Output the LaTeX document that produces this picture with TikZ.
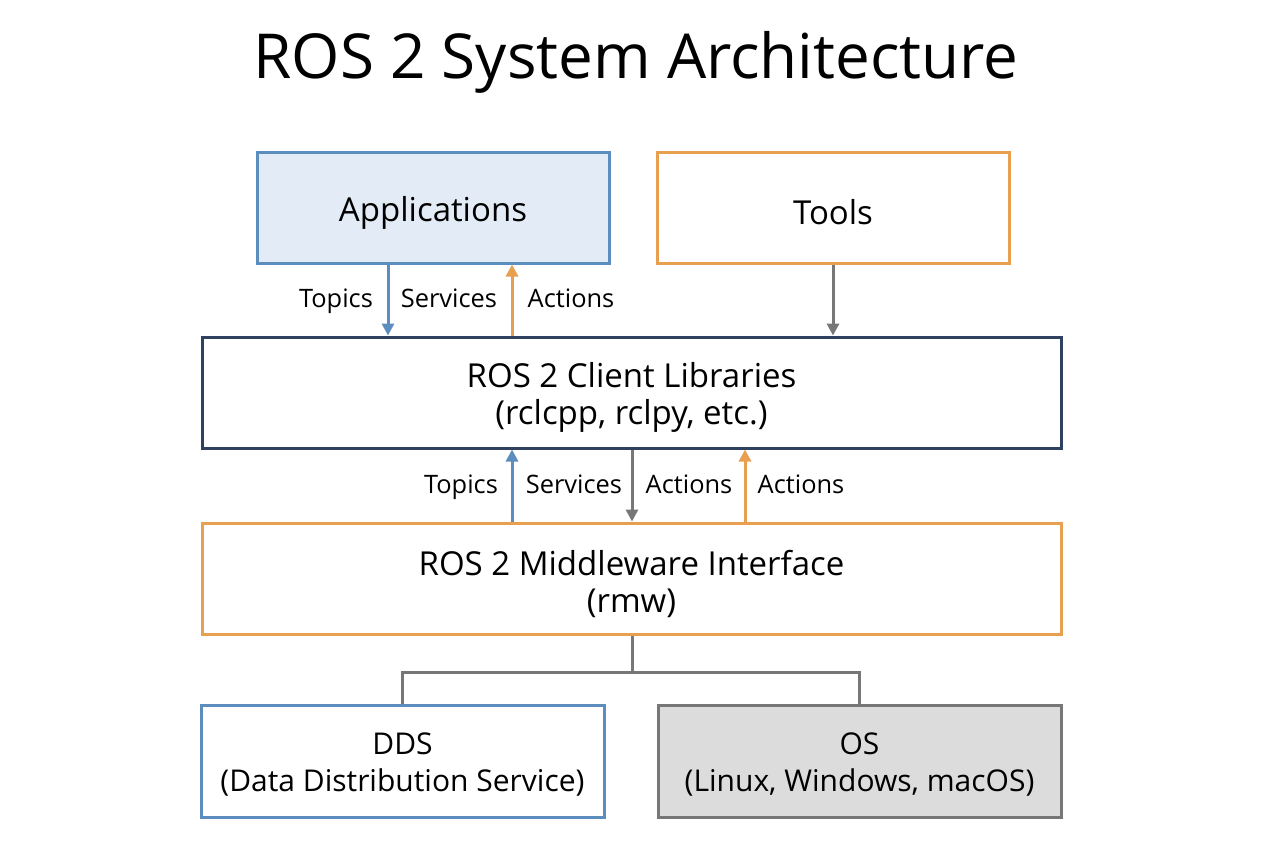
\documentclass[tikz,border=0pt]{standalone}
\usepackage{fontspec}
\setmainfont{Open Sans}
\usetikzlibrary{arrows.meta}
\definecolor{cblue}{HTML}{5B8DBE}
\definecolor{lblue}{HTML}{E3ECF6}
\definecolor{corange}{HTML}{E8A050}
\definecolor{cnavy}{HTML}{2E4260}
\definecolor{cgray}{HTML}{777777}
\definecolor{lgray}{HTML}{DCDCDC}
\begin{document}
\begin{tikzpicture}[x=0.5pt,y=-0.5pt,
  box/.style={draw,line width=1.5pt,align=center,inner sep=0pt},
  txt/.style={label={[align=center,font=\fontsize{16.5}{18.5}\selectfont,yshift=-2.5pt]center:#1}},
  stxt/.style={label={[align=center,font=\fontsize{15}{18.5}\selectfont,yshift=-1.5pt]center:#1}},
  lab/.style={font=\fontsize{12.7}{14}\selectfont,text height=9pt,text depth=2.5pt},
  arr/.style={line width=1.5pt,-{Triangle[length=6pt,width=6pt]}}]
\useasboundingbox[fill=white] (0,0) rectangle (1264,848);
\node[font=\fontsize{31}{34}\selectfont] (title) at (636,62) {ROS 2 System Architecture};
\node[box,draw=cblue,fill=lblue,minimum width=176pt,minimum height=55.5pt,txt={Applications}] (app) at (433,207.5) {};
\node[box,draw=corange,minimum width=176pt,minimum height=55.5pt,txt={Tools}] (tools) at (833,207.5) {};
\node[box,draw=cnavy,minimum width=429.5pt,minimum height=55.5pt,txt={ROS 2 Client Libraries\\(rclcpp, rclpy, etc.)}] (rcl) at (631.5,392.5) {};
\node[box,draw=corange,minimum width=429.5pt,minimum height=55.5pt,txt={ROS 2 Middleware Interface\\(rmw)}] (rmw) at (631.5,578.5) {};
\node[box,draw=cblue,minimum width=201.5pt,minimum height=56pt,stxt={DDS\\(Data Distribution Service)}] (dds) at (402.5,761) {};
\node[box,draw=cgray,fill=lgray,minimum width=201.5pt,minimum height=56pt,stxt={OS\\(Linux, Windows, macOS)}] (os) at (859.5,761) {};
% top arrows
\draw[arr,cblue] (app.south -| 388,0) -- (rcl.north -| 388,0);
\draw[arr,corange] (rcl.north -| 512,0) -- (app.south -| 512,0);
\draw[arr,cgray] (tools.south) -- (rcl.north -| tools.south);
\node[lab] (l1) at (336,301) {Topics};
\node[lab] (l2) at (449,301) {Services};
\node[lab] (l3) at (571,301) {Actions};
% middle arrows
\draw[arr,cblue] (rmw.north -| 512,0) -- (rcl.south -| 512,0);
\draw[arr,cgray] (rcl.south -| 632,0) -- (rmw.north -| 632,0);
\draw[arr,corange] (rmw.north -| 745,0) -- (rcl.south -| 745,0);
\node[lab] (l4) at (461,487) {Topics};
\node[lab] (l5) at (574,487) {Services};
\node[lab] (l6) at (689,487) {Actions};
\node[lab] (l7) at (801,487) {Actions};
% tree
\coordinate (j) at (632,672);
\draw[cgray,line width=1.5pt] (rmw.south -| j) -- (j);
\draw[cgray,line width=1.5pt] (dds.north) -- (dds.north |- j) -- (os.north |- j) -- (os.north);
\end{tikzpicture}
\end{document}
